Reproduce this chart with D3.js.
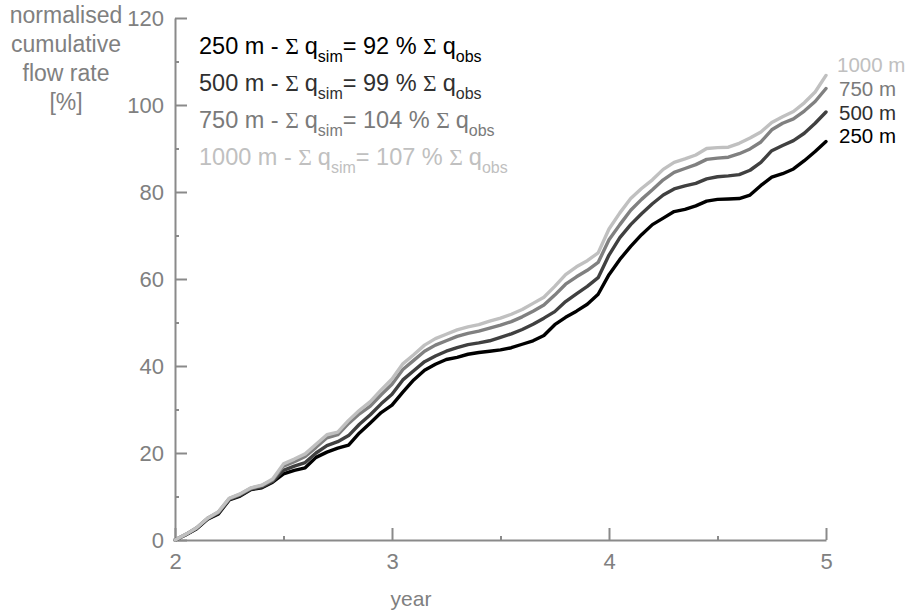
<!DOCTYPE html>
<html>
<head>
<meta charset="utf-8">
<script src="https://cdn.jsdelivr.net/npm/d3@7"></script>
<style>
  body { margin: 0; background: #fff; }
  text { font-family: "Liberation Sans", Arial, sans-serif; }
</style>
</head>
<body>
<svg width="913" height="616"></svg>
<script>
// sample years (every 0.05 year)
let years = d3.range(0, 61).map(function (i) { return +(2 + i * 0.05).toFixed(2); });

let q250 = [0, 1.2, 2.6, 4.8, 6.0, 9.2, 10.1, 11.6, 12.0, 13.3,
  15.2, 16.0, 16.6, 19.0, 20.2, 21.1, 21.8, 24.6, 26.9, 29.3,
  31.0, 34.0, 36.8, 39.0, 40.4, 41.5, 42.0, 42.7, 43.1, 43.4,
  43.7, 44.2, 45.0, 45.8, 47.0, 49.5, 51.2, 52.6, 54.2, 56.5,
  61.0, 64.5, 67.5, 70.2, 72.5, 74.0, 75.5, 76.0, 76.8, 77.9,
  78.3, 78.4, 78.5, 79.3, 81.5, 83.4, 84.2, 85.3, 87.2, 89.3, 91.6];

let q500 = [0, 1.2, 2.7, 4.9, 6.2, 9.3, 10.3, 11.7, 12.2, 13.5,
  16.0, 17.0, 17.8, 20.0, 21.7, 22.6, 24.0, 26.6, 28.8, 31.3,
  33.5, 36.8, 38.9, 41.0, 42.3, 43.4, 44.2, 44.9, 45.3, 45.8,
  46.6, 47.4, 48.4, 49.6, 51.0, 52.5, 54.8, 56.6, 58.3, 60.3,
  65.5, 69.5, 72.5, 75.0, 77.3, 79.3, 80.7, 81.4, 82.0, 83.0,
  83.5, 83.7, 84.0, 85.0, 86.8, 89.5, 90.7, 91.8, 93.5, 95.8, 98.4];

let q750 = [0, 1.3, 2.8, 5.0, 6.4, 9.5, 10.5, 11.9, 12.5, 13.8,
  17.0, 18.0, 19.2, 21.3, 23.5, 24.2, 26.8, 29.0, 30.8, 33.4,
  35.8, 39.2, 41.3, 43.4, 44.8, 45.8, 46.8, 47.5, 48.0, 48.7,
  49.4, 50.2, 51.3, 52.6, 54.0, 56.3, 58.8, 60.5, 62.0, 63.8,
  69.0, 72.5, 75.8, 78.3, 80.5, 82.8, 84.5, 85.4, 86.3, 87.5,
  87.8, 88.0, 88.8, 89.9, 91.5, 94.3, 95.8, 96.8, 98.6, 100.8, 103.8];

let q1000 = [0, 1.3, 2.8, 5.0, 6.5, 9.6, 10.6, 12.0, 12.6, 14.0,
  17.5, 18.6, 19.8, 22.0, 24.2, 24.8, 27.5, 29.8, 31.8, 34.5,
  37.0, 40.5, 42.6, 44.8, 46.3, 47.3, 48.3, 49.0, 49.5, 50.3,
  51.0, 51.9, 53.0, 54.4, 55.8, 58.3, 61.0, 62.8, 64.2, 66.0,
  71.5, 75.2, 78.5, 80.8, 82.8, 85.2, 86.8, 87.6, 88.5, 90.0,
  90.2, 90.3, 91.2, 92.4, 93.8, 96.0, 97.3, 98.5, 100.5, 103.0, 106.8];

let seriesNames = ["250 m", "500 m", "750 m", "1000 m"];
let seriesData = [q250, q500, q750, q1000];
let sumRatio = [92, 99, 104, 107];

let lineColors = ["#000000", "#404040", "#808080", "#c0c0c0"];
let textColors = ["#000000", "#303030", "#7a7a7a", "#c0c0c0"];

let xTicks = [2, 3, 4, 5];
let xMinor = [2.5, 3.5, 4.5];
let yTicks = [0, 20, 40, 60, 80, 100, 120];
let yMinor = [10, 30, 50, 70, 90, 110];

let svg = d3.select("svg");

let x = d3.scaleLinear().domain([2, 5]).range([175, 826]);
let y = d3.scaleLinear().domain([0, 120]).range([540, 18]);

let axisColor = "#8a8a8a";

// minor ticks
svg.append("g")
    .attr("transform", "translate(175,0)")
    .call(d3.axisLeft(y).tickValues(yMinor).tickSize(-4).tickFormat(""))
    .call(function (g) { g.select(".domain").remove(); });
svg.append("g")
    .attr("transform", "translate(0,540)")
    .call(d3.axisBottom(x).tickValues(xMinor).tickSize(-4).tickFormat(""))
    .call(function (g) { g.select(".domain").remove(); });

// major axes
svg.append("g")
    .attr("class", "yaxis")
    .attr("transform", "translate(175,0)")
    .call(d3.axisLeft(y).tickValues(yTicks).tickSize(-12).tickSizeOuter(0).tickPadding(11));
svg.append("g")
    .attr("class", "xaxis")
    .attr("transform", "translate(0,540)")
    .call(d3.axisBottom(x).tickValues(xTicks).tickSize(-12).tickSizeOuter(0).tickPadding(13).tickFormat(d3.format("d")));

svg.selectAll(".yaxis, .xaxis")
    .attr("font-family", null)
    .attr("font-size", 22);
svg.selectAll(".yaxis path, .xaxis path, g line")
    .attr("stroke", axisColor)
    .attr("stroke-width", 2);
svg.selectAll(".yaxis text, .xaxis text")
    .attr("fill", "#808080");

// axis titles
let yTitle = ["normalised", "cumulative", "flow rate", "[%]"];
svg.append("g").selectAll("text")
    .data(yTitle)
    .enter()
    .append("text")
    .attr("x", 66)
    .attr("y", function (d, i) { return 23 + i * 29; })
    .attr("text-anchor", "middle")
    .attr("font-size", 23)
    .attr("fill", "#808080")
    .text(function (d) { return d; });

svg.append("text")
    .attr("x", 411)
    .attr("y", 606)
    .attr("text-anchor", "middle")
    .attr("font-size", 21)
    .attr("fill", "#808080")
    .text("year");

// curves
let line = d3.line()
    .x(function (d, i) { return x(years[i]); })
    .y(function (d) { return y(d); });

svg.append("g").selectAll("path")
    .data(seriesData)
    .enter()
    .append("path")
    .attr("d", line)
    .attr("fill", "none")
    .attr("stroke", function (d, i) { return lineColors[i]; })
    .attr("stroke-width", 3.4)
    .attr("stroke-linejoin", "round")
    .attr("stroke-linecap", "round");

// end labels
let endY = [136, 113, 89, 65];
svg.append("g").selectAll("text")
    .data(seriesNames)
    .enter()
    .append("text")
    .attr("x", function (d, i) { return i == 3 ? 837 : 839; })
    .attr("y", function (d, i) { return endY[i] + 7; })
    .attr("font-size", 20.5)
    .attr("fill", function (d, i) { return textColors[i]; })
    .text(function (d) { return d; });

// legend with sums
let legend = svg.append("g").selectAll("text")
    .data(seriesNames)
    .enter()
    .append("text")
    .attr("x", 199)
    .attr("y", function (d, i) { return 54 + i * 37; })
    .attr("font-size", 23.5)
    .attr("fill", function (d, i) { return textColors[i]; });

legend.append("tspan").text(function (d) { return d + " - "; });
legend.append("tspan").attr("font-family", "Liberation Serif, serif").text("\u03a3 ");
legend.append("tspan").text("q");
legend.append("tspan").attr("font-size", 16).attr("dy", 8).text("sim");
legend.append("tspan").attr("dy", -8).text(function (d, i) { return "= " + sumRatio[i] + " % "; });
legend.append("tspan").attr("font-family", "Liberation Serif, serif").text("\u03a3 ");
legend.append("tspan").text("q");
legend.append("tspan").attr("font-size", 16).attr("dy", 8).text("obs");
</script>
</body>
</html>
